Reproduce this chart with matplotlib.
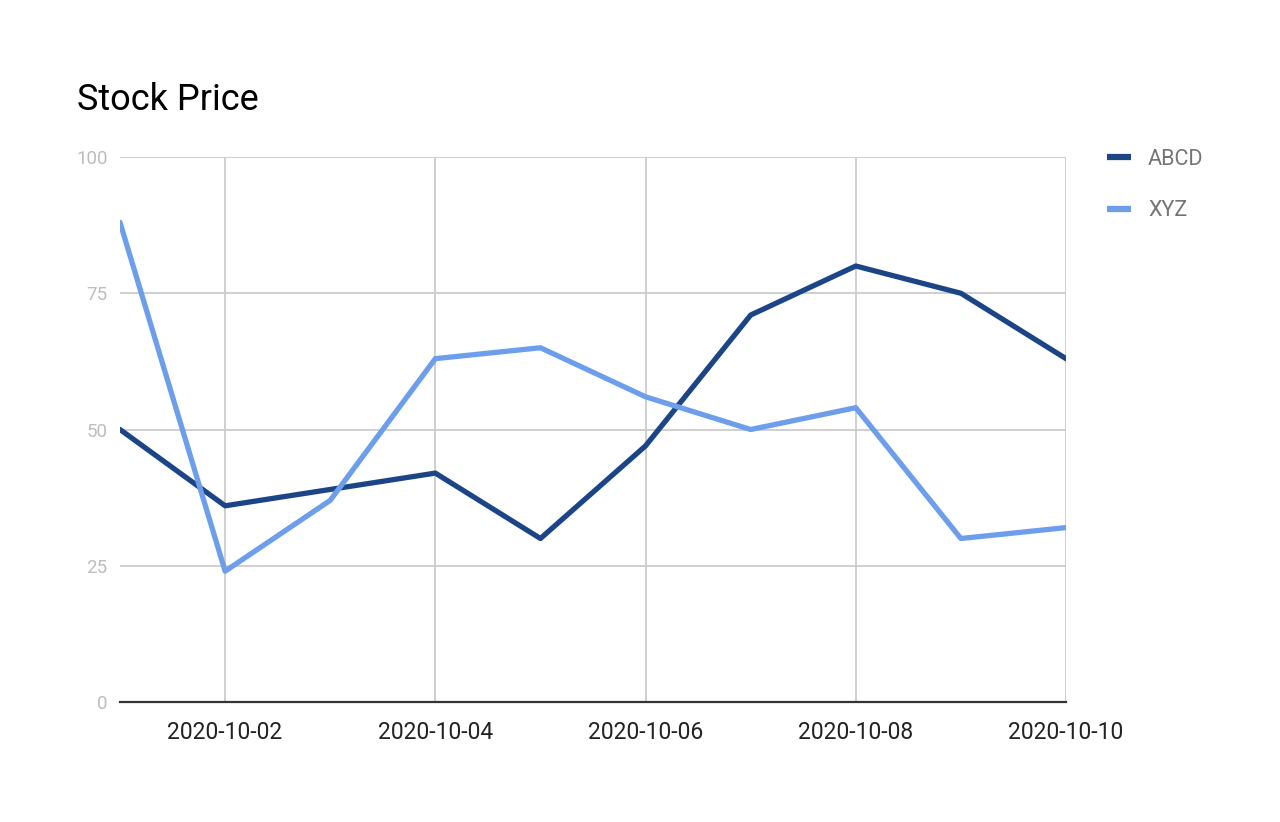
import numpy as np
import pandas as pd
import matplotlib
matplotlib.use("Agg")
import matplotlib.pyplot as plt
import matplotlib.dates as mdates
from matplotlib.lines import Line2D

plt.rcParams['font.family'] = ['Roboto', 'DejaVu Sans']

dates = pd.date_range("2020-10-01", "2020-10-10", freq="D")
abcd = [50, 36, 39, 42, 30, 47, 71, 80, 75, 63]
xyz = [88, 24, 37, 63, 65, 56, 50, 54, 30, 32]
series_names = ["ABCD", "XYZ"]
series_colors = ["#1c4587", "#6d9eeb"]
y_ticks = [0, 25, 50, 75, 100]

fig = plt.figure(figsize=(12.8, 8.22), dpi=100)
ax = fig.add_axes([120 / 1280, 1 - 702 / 822, (1066 - 120) / 1280, (702 - 157) / 822])

ax.plot(dates, abcd, color=series_colors[0], linewidth=3.8, solid_capstyle="round", zorder=3)
ax.plot(dates, xyz, color=series_colors[1], linewidth=3.8, solid_capstyle="round", zorder=3)

ax.set_xlim(dates[0], dates[-1])
ax.set_ylim(0, 100)
ax.set_yticks(y_ticks)
ax.xaxis.set_major_locator(mdates.DayLocator(bymonthday=[2, 4, 6, 8, 10]))
ax.xaxis.set_major_formatter(mdates.DateFormatter("%Y-%m-%d"))

ax.grid(True, color="#cccccc", linewidth=1.3, zorder=0)
ax.set_axisbelow(True)
for s in ["top", "right", "left"]:
    ax.spines[s].set_visible(False)
ax.spines["bottom"].set_color("#333333")
ax.spines["bottom"].set_linewidth(1.6)
ax.spines["bottom"].set_zorder(4)

ax.tick_params(axis="x", length=0, pad=14, labelsize=16.5, labelcolor="#222222")
ax.tick_params(axis="y", length=0, pad=9, labelsize=13.5, labelcolor="#bdbdbd")

fig.text(77 / 1280, 1 - 110 / 822, "Stock Price", fontsize=26, color="#000000", ha="left", va="baseline")

handles = [Line2D([0], [0], color=c, linewidth=4.5, solid_capstyle="butt") for c in series_colors]
fig.legend(handles, series_names, loc="upper left", bbox_to_anchor=(1107 / 1280, 1 - 149 / 822), frameon=False,
           fontsize=15.5, handlelength=1.1, handletextpad=0.8, labelspacing=1.4,
           borderpad=0, borderaxespad=0, labelcolor="#757575")

fig.savefig("out.png", dpi=100)
